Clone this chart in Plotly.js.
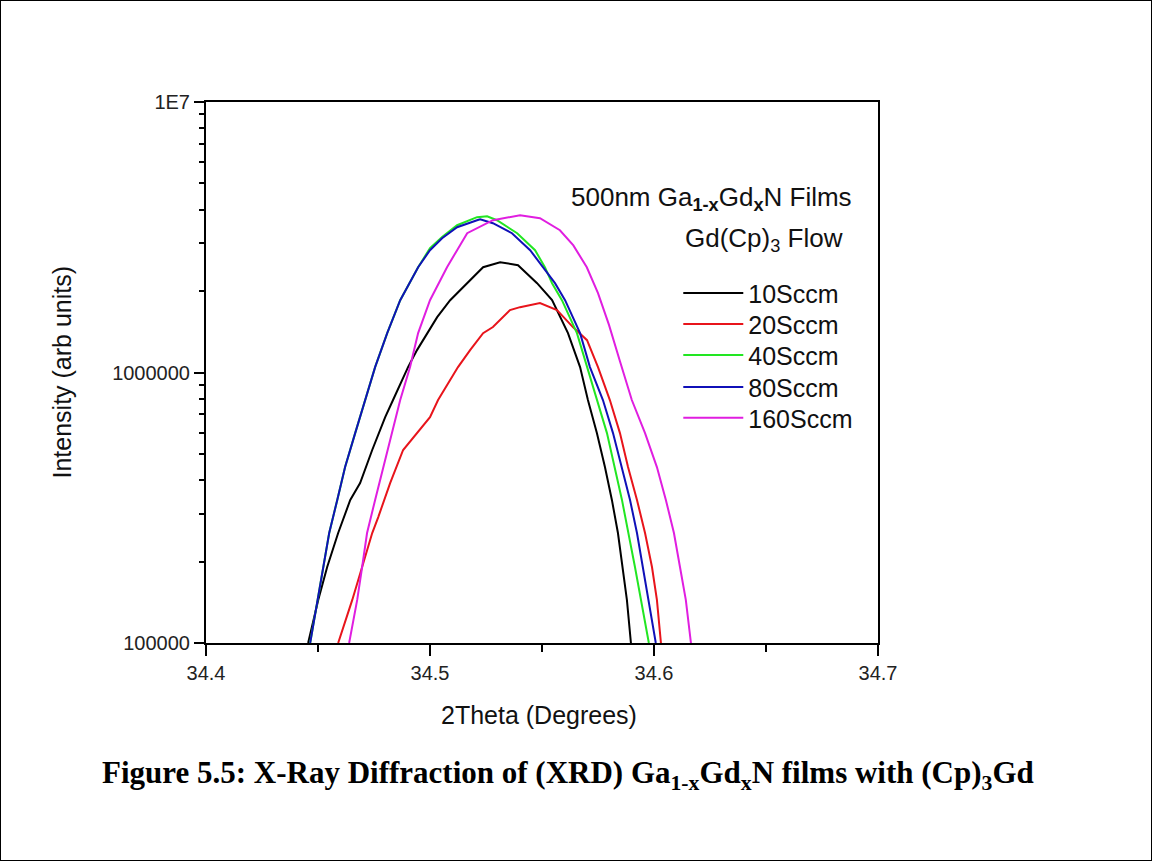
<!DOCTYPE html>
<html>
<head>
<meta charset="utf-8">
<script src="https://cdn.plot.ly/plotly-3.0.1.min.js"></script>
<style>
html,body{margin:0;padding:0;background:#fff;}
#wrap{position:relative;width:1152px;height:861px;}
#chart{position:absolute;left:0;top:0;width:1152px;height:861px;}
#frame{position:absolute;left:0;top:0;width:1152px;height:861px;box-sizing:border-box;border:1.5px solid #000;pointer-events:none;}
</style>
</head>
<body>
<div id="wrap"><div id="chart"></div><div id="frame"></div></div>
<script>
// 2Theta (degrees) and intensity (arb units)
const theta10 = [34.4456,34.4501,34.4541,34.4590,34.4644,34.4688,34.4742,34.4800,34.4835,34.4902,34.4942,34.4987,34.5032,34.5090,34.5166,34.5237,34.5313,34.5393,34.5478,34.5545,34.5616,34.5670,34.5705,34.5745,34.5781,34.5812,34.5839,34.5861,34.5879,34.5897];
const int10   = [1.0e5,1.443e5,1.91e5,2.55e5,3.38e5,3.90e5,5.17e5,6.84e5,7.91e5,1.047e6,1.21e6,1.398e6,1.602e6,1.851e6,2.139e6,2.451e6,2.557e6,2.493e6,2.139e6,1.851e6,1.398e6,1.047e6,7.91e5,5.97e5,4.47e5,3.38e5,2.55e5,1.91e5,1.443e5,1.0e5];

const theta20 = [34.4590,34.4653,34.4697,34.4742,34.4769,34.4822,34.4880,34.4942,34.5000,34.5036,34.5081,34.5125,34.5179,34.5237,34.5281,34.5357,34.5402,34.5491,34.5567,34.5638,34.5701,34.5750,34.5803,34.5848,34.5884,34.5924,34.5960,34.5991,34.6013,34.6031];
const int20   = [1.0e5,1.443e5,1.91e5,2.55e5,2.92e5,3.90e5,5.17e5,5.97e5,6.84e5,7.91e5,9.14e5,1.047e6,1.21e6,1.398e6,1.472e6,1.70e6,1.744e6,1.805e6,1.70e6,1.472e6,1.317e6,1.047e6,7.91e5,5.97e5,4.47e5,3.38e5,2.55e5,1.91e5,1.443e5,1.0e5];

const theta40 = [34.4465,34.4523,34.4550,34.4586,34.4621,34.4666,34.4711,34.4755,34.4809,34.4867,34.4947,34.5000,34.5054,34.5121,34.5210,34.5255,34.5299,34.5389,34.5469,34.5513,34.5545,34.5589,34.5656,34.5701,34.5790,34.5857,34.5915,34.5977];
const int40   = [1.0e5,1.91e5,2.55e5,3.38e5,4.47e5,5.97e5,7.91e5,1.047e6,1.398e6,1.851e6,2.451e6,2.881e6,3.17e6,3.504e6,3.751e6,3.783e6,3.656e6,3.273e6,2.833e6,2.451e6,2.139e6,1.851e6,1.398e6,1.047e6,5.97e5,3.38e5,1.91e5,1.0e5];

const theta80 = [34.4465,34.4523,34.4550,34.4586,34.4621,34.4666,34.4711,34.4755,34.4809,34.4867,34.4947,34.5000,34.5054,34.5121,34.5210,34.5224,34.5281,34.5366,34.5447,34.5504,34.5558,34.5603,34.5670,34.5714,34.5772,34.5817,34.5857,34.5893,34.5924,34.5968,34.6008];
const int80   = [1.0e5,1.91e5,2.55e5,3.38e5,4.47e5,5.97e5,7.91e5,1.047e6,1.398e6,1.851e6,2.451e6,2.833e6,3.137e6,3.445e6,3.656e6,3.687e6,3.564e6,3.273e6,2.833e6,2.451e6,2.139e6,1.851e6,1.398e6,1.047e6,7.91e5,5.97e5,4.47e5,3.38e5,2.55e5,1.571e5,1.0e5];

const theta160 = [34.4639,34.4675,34.4697,34.4719,34.4755,34.4791,34.4831,34.4867,34.4911,34.4947,34.5000,34.5076,34.5121,34.5166,34.5281,34.5402,34.5491,34.5580,34.5640,34.5700,34.5750,34.5799,34.5848,34.5901,34.5960,34.6013,34.6053,34.6089,34.6116,34.6142,34.6165];
const int160   = [1.0e5,1.443e5,1.91e5,2.55e5,3.38e5,4.47e5,5.97e5,7.91e5,1.047e6,1.398e6,1.851e6,2.451e6,2.833e6,3.273e6,3.656e6,3.815e6,3.719e6,3.357e6,2.95e6,2.45e6,1.965e6,1.50e6,1.10e6,7.91e5,5.97e5,4.47e5,3.38e5,2.55e5,1.91e5,1.443e5,1.0e5];

const seriesNames  = ["10Sccm","20Sccm","40Sccm","80Sccm","160Sccm"];
const seriesColors = ["#000000","#e8141b","#22e622","#1010b8","#e01ee0"];
const xs = [theta10, theta20, theta40, theta80, theta160];
const ys = [int10, int20, int40, int80, int160];

const yTickVals = [1e5, 1e6, 1e7];
const yTickText = ["100000", "1000000", "1E7"];
const yMinorVals = [2e5,3e5,4e5,5e5,6e5,7e5,8e5,9e5,2e6,3e6,4e6,5e6,6e6,7e6,8e6,9e6];

const F = '"Liberation Sans", Arial, sans-serif';
const legendKeys = ['legend','legend2','legend3','legend4','legend5'];
const legendRowY = [0.6466, 0.5893, 0.5321, 0.4729, 0.4157];

const traces = seriesNames.map((n, i) => ({
  x: xs[i], y: ys[i], name: n, type: 'scatter', mode: 'lines',
  line: {color: seriesColors[i], width: 2},
  legend: legendKeys[i]
}));
// invisible trace to carry minor y ticks on an overlaid axis
traces.push({x:[34.4], y:[1e5], yaxis:'y2', mode:'markers', marker:{opacity:0}, showlegend:false, hoverinfo:'skip'});

const layout = {
  width: 1152, height: 861,
  paper_bgcolor: '#fff', plot_bgcolor: '#fff',
  margin: {l: 206, r: 274, t: 102, b: 218},
  showlegend: true,
  xaxis: {
    range: [34.4, 34.7], dtick: 0.1, tick0: 34.4,
    showgrid: false, zeroline: false,
    showline: true, linecolor: '#000', linewidth: 2, mirror: true,
    ticks: 'outside', ticklen: 11, tickwidth: 2, tickcolor: '#000',
    tickfont: {family: F, size: 20, color: '#222'},
    minor: {dtick: 0.05, ticks: 'outside', ticklen: 7, tickwidth: 2, tickcolor: '#000', showgrid: false}
  },
  yaxis: {
    type: 'log', range: [5, 7],
    tickvals: yTickVals, ticktext: yTickText,
    showgrid: false, zeroline: false,
    showline: true, linecolor: '#000', linewidth: 2, mirror: true,
    ticks: 'outside', ticklen: 10, tickwidth: 2, tickcolor: '#000',
    tickfont: {family: F, size: 20, color: '#222'}
  },
  yaxis2: {
    type: 'log', range: [5, 7], overlaying: 'y', side: 'left',
    tickvals: yMinorVals, showticklabels: false,
    showgrid: false, zeroline: false, showline: false,
    ticks: 'outside', ticklen: 6, tickwidth: 2, tickcolor: '#000'
  },
  annotations: [
    {xref:'paper', yref:'paper', x:-0.2138, y:0.5006, text:'Intensity (arb units)', textangle:-90,
     showarrow:false, font:{family:F, size:25, color:'#111'}, xanchor:'center', yanchor:'middle'},
    {xref:'paper', yref:'paper', x:0.4952, y:-0.133, text:'2Theta (Degrees)',
     showarrow:false, font:{family:F, size:25, color:'#111'}, xanchor:'center', yanchor:'middle'},
    {xref:'paper', yref:'paper', x:0.752, y:0.822, text:'500nm Ga<sub><b>1-x</b></sub>Gd<sub><b>x</b></sub>N Films',
     showarrow:false, font:{family:F, size:26, color:'#111'}, xanchor:'center', yanchor:'middle'},
    {xref:'paper', yref:'paper', x:0.830, y:0.746, text:'Gd(Cp)<sub>3</sub> Flow',
     showarrow:false, font:{family:F, size:26, color:'#111'}, xanchor:'center', yanchor:'middle'},
    {xref:'paper', yref:'paper', x:0.5384, y:-0.2439,
     text:'<b>Figure 5.5: X-Ray Diffraction of (XRD) Ga<sub>1-x</sub>Gd<sub>x</sub>N films with (Cp)<sub>3</sub>Gd</b>',
     showarrow:false, font:{family:'"Liberation Serif", "Times New Roman", serif', size:31, color:'#000'},
     xanchor:'center', yanchor:'middle'}
  ]
};
legendKeys.forEach((k, i) => {
  layout[k] = {
    x: 0.7028, y: legendRowY[i], xanchor: 'left', yanchor: 'middle',
    font: {family: F, size: 25, color: '#111'},
    bgcolor: 'rgba(0,0,0,0)', borderwidth: 0, itemwidth: 60
  };
});

Plotly.newPlot('chart', traces, layout, {staticPlot: true, displayModeBar: false});
</script>
</body>
</html>
